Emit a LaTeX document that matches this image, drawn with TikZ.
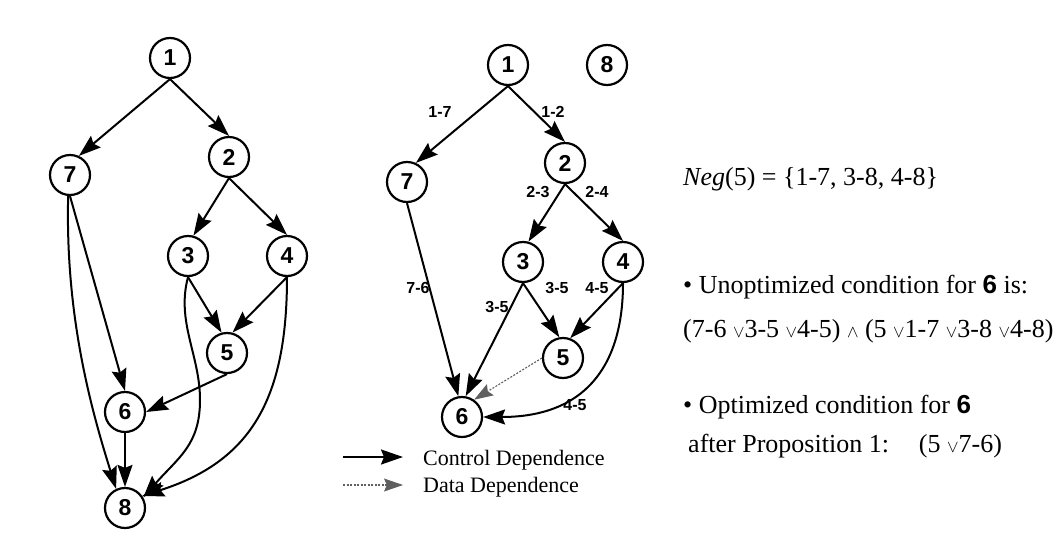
\documentclass[tikz,border=0pt]{standalone}
\usepackage{fontspec}
\setmainfont{Liberation Serif}
\setsansfont{Liberation Sans}
\usepackage{tikz}
\usetikzlibrary{arrows.meta}
\definecolor{dataGray}{RGB}{95,95,95}
\newcommand{\orv}{{\fontsize{16}{16}\selectfont$\vee$}}
\newcommand{\andw}{{\fontsize{16}{16}\selectfont$\wedge$}}

\begin{document}
\begin{tikzpicture}[x=1pt, y=-1pt,
    vtx/.style={circle, draw, line width=2.2pt, minimum size=40pt, inner sep=0pt, font=\fontsize{23}{23}\sffamily\bfseries},
    ctl/.style={-{Stealth[length=22pt, width=15pt, inset=3pt]}, line width=2pt},
    dat/.style={-{Stealth[length=19pt, width=13pt, inset=3pt]}, line width=1.1pt, dataGray, dash pattern=on 2pt off 1.5pt},
    elbl/.style={font=\fontsize{16}{16}\sffamily\bfseries, inner sep=1pt},
    txt/.style={anchor=base west, inner sep=0pt, font=\fontsize{26}{30}\selectfont}]
			\useasboundingbox (0,0) rectangle (1064,557);

			% Left graph
			\node[vtx] (a1) at (170,58) {1};
			\node[vtx] (a7) at (70,175) {7};
			\node[vtx] (a2) at (229,157) {2};
			\node[vtx] (a3) at (188,256) {3};
			\node[vtx] (a4) at (287,256) {4};
			\node[vtx] (a5) at (227,353) {5};
			\node[vtx] (a6) at (125,412) {6};
			\node[vtx] (a8) at (125,508) {8};

			\draw[ctl] (a1.south) -- (a7.65);
			\draw[ctl] (a1.south) -- (a2.north);
			\draw[ctl] (a2.south) -- (a3.75);
			\draw[ctl] (a2.south) -- (a4.north);
			\draw[ctl] (a3.south) -- (a5.105);
			\draw[ctl] (a4.south) -- (a5.75);
			\draw[ctl] (a7.south) -- (a6.north);
			\draw[ctl] (a5.south) -- (a6.east);
			\draw[ctl] (a6.south) -- (a8.north);
			\draw[ctl] (a7.265) .. controls +(-3,120) and +(-25,-80) .. (a8.115);
			\draw[ctl] (a3.south) .. controls +(-12,45) and +(0,-45) .. (200,400) .. controls +(0,45) and +(35,-40) .. (a8.30);
			\draw[ctl] (a4.south) .. controls +(0,120) and +(110,-35) .. (a8.35);

			% Right graph
			\node[vtx] (b1) at (508,65) {1};
			\node[vtx] (b8) at (607,65) {8};
			\node[vtx] (b7) at (407,182) {7};
			\node[vtx] (b2) at (565,163) {2};
			\node[vtx] (b3) at (523,262) {3};
			\node[vtx] (b4) at (623,262) {4};
			\node[vtx] (b5) at (563,358) {5};
			\node[vtx] (b6) at (462,417) {6};

			\draw[ctl] (b1.south) -- (b7.65);
			\draw[ctl] (b1.south) -- (b2.north);
			\draw[ctl] (b2.south) -- (b3.75);
			\draw[ctl] (b2.south) -- (b4.north);
			\draw[ctl] (b3.south) -- (b5.100);
			\draw[ctl] (b4.south) -- (b5.70);
			\draw[ctl] (b7.south) -- (b6.100);
			\draw[ctl] (b3.south) -- (b6.80);
			\draw[dat] (b5.west) -- (b6.55);
			\draw[ctl] (b4.south) .. controls +(0,85) and +(100,0) .. (b6.east);

			% Edge labels
			\node[elbl] (l17) at (440,112) {1-7};
			\node[elbl] (l12) at (553,112) {1-2};
			\node[elbl] (l23) at (538,192) {2-3};
			\node[elbl] (l24) at (597,192) {2-4};
			\node[elbl] (l76) at (418,288) {7-6};
			\node[elbl] (l35a) at (497,307) {3-5};
			\node[elbl] (l35b) at (557,288) {3-5};
			\node[elbl] (l45a) at (597,288) {4-5};
			\node[elbl] (l45b) at (575,405) {4-5};

			% Legend
			\coordinate (ctlA) at (343,457);
			\coordinate (ctlB) at (403,457);
			\coordinate (datA) at (343,485);
			\coordinate (datB) at (403,485);
			\draw[ctl] (ctlA) -- (ctlB);
			\draw[dat] (datA) -- (datB);
			\node[anchor=base west, inner sep=0pt, font=\fontsize{22}{22}\selectfont] (ctlTxt) at (423,465) {Control Dependence};
			\node[anchor=base west, inner sep=0pt, font=\fontsize{22}{22}\selectfont] (datTxt) at (423,492) {Data Dependence};

			% Conditions
			\node[txt] (negTxt) at (683,185) {\textit{Neg}(5) = \{1-7, 3-8, 4-8\}};
			\node[txt] (unoptA) at (683,293) {• Unoptimized condition for \textsf{\bfseries 6} is:};
			\node[txt] (unoptB) at (683,337) {(7-6 \orv3-5 \orv4-5) \andw\ (5 \orv1-7 \orv3-8 \orv4-8)};
			\node[txt] (optA) at (683,413) {• Optimized condition for \textsf{\bfseries 6}};
			\node[txt] (optB) at (688,452) {after Proposition 1:\hspace{30pt}(5 \orv7-6)};
		\end{tikzpicture}
\end{document}
